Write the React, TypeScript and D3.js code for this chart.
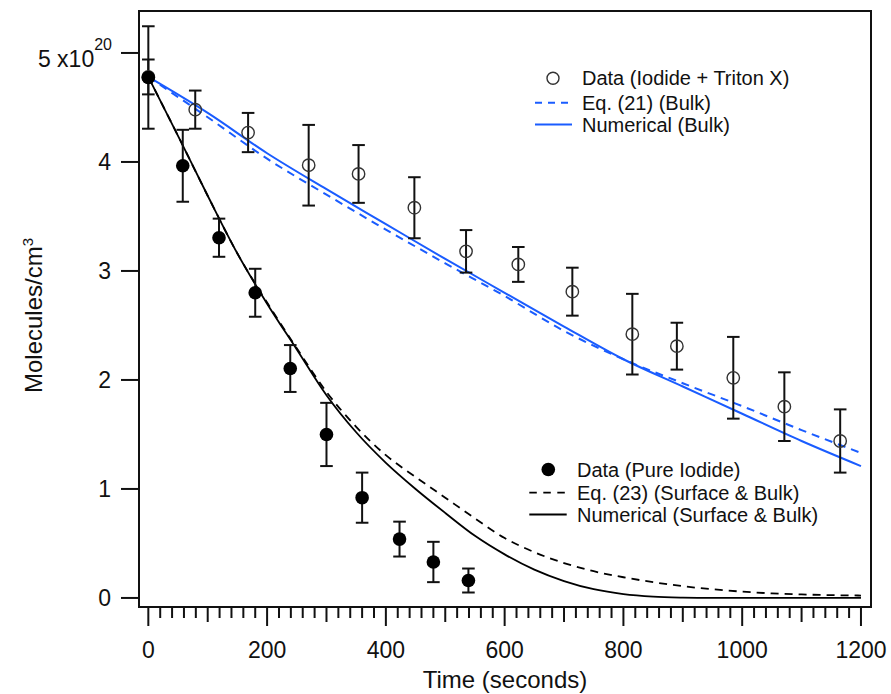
import React from 'react';
import * as d3 from 'd3';

// ---- Data: Iodide + Triton X (open circles) ----
const tritonTime = [0, 79, 168, 270, 354, 448, 535, 623, 714, 815, 890, 985, 1071, 1165];
const tritonValue = [4.78, 4.48, 4.27, 3.97, 3.89, 3.58, 3.18, 3.06, 2.81, 2.42, 2.31, 2.02, 1.755, 1.44];
const tritonErr = [0.16, 0.175, 0.18, 0.37, 0.265, 0.28, 0.195, 0.16, 0.22, 0.37, 0.215, 0.375, 0.315, 0.29];

// ---- Data: Pure Iodide (filled circles) ----
const pureTime = [0, 58, 119, 180, 239, 300, 360, 423, 480, 539];
const pureValue = [4.775, 3.965, 3.305, 2.8, 2.105, 1.5, 0.92, 0.54, 0.33, 0.16];
const pureErr = [0.47, 0.33, 0.175, 0.22, 0.215, 0.29, 0.23, 0.16, 0.185, 0.11];

// ---- Model curves, Bulk (blue) ----
const bulkTime = [0, 100, 200, 300, 400, 500, 600, 700, 800, 900, 1000, 1100, 1200];
const bulkEq21 = [4.78, 4.41, 4.03, 3.7, 3.38, 3.07, 2.77, 2.45, 2.19, 1.97, 1.76, 1.54, 1.33];
const bulkNumerical = [4.78, 4.45, 4.08, 3.75, 3.43, 3.11, 2.8, 2.49, 2.19, 1.94, 1.69, 1.44, 1.21];

// ---- Model curves, Surface & Bulk (black) ----
const sbTime = [0, 50, 100, 150, 200, 250, 300, 350, 400, 450, 500, 550, 600, 650, 700, 750, 800, 850, 900, 950, 1000, 1050, 1100, 1150, 1200];
const sbEq23 = [4.78, 4.24, 3.69, 3.16, 2.71, 2.29, 1.89, 1.57, 1.31, 1.11, 0.92, 0.73, 0.55, 0.42, 0.32, 0.245, 0.19, 0.145, 0.108, 0.08, 0.058, 0.042, 0.032, 0.026, 0.022];
const sbNumerical = [4.78, 4.24, 3.69, 3.16, 2.7, 2.28, 1.86, 1.52, 1.24, 1.0, 0.78, 0.57, 0.4, 0.26, 0.155, 0.08, 0.035, 0.012, 0.003, 0.0, 0.0, 0.0, 0.0, 0.0, 0.0];

// ---- Axis ticks ----
const xTickLabels = [0, 200, 400, 600, 800, 1000, 1200];
const yTickValues = [0, 1, 2, 3, 4, 5];

const FONT = 'Liberation Sans, Arial, Helvetica, sans-serif';
const BLUE = '#1a5cff';
const INK = '#111';

export default function App() {
  const W = 891;
  const H = 694;
  const frame = { left: 139, right: 871, top: 11, bottom: 607 };
  const x = d3.scaleLinear().domain([-15.7, 1216.9]).range([frame.left, frame.right]);
  const y = d3.scaleLinear().domain([-0.083, 5.385]).range([frame.bottom, frame.top]);

  const line = d3
    .line<[number, number]>()
    .x((d) => x(d[0]))
    .y((d) => y(d[1]))
    .curve(d3.curveMonotoneX);

  const zip = (t: number[], v: number[]) => t.map((ti, i) => [ti, v[i]] as [number, number]);

  const minorTicks = d3.range(0, 1201, 20);
  const cap = 6.3;

  const errorBars = (t: number[], v: number[], e: number[], key: string) =>
    t.map((ti, i) => {
      const cx = x(ti);
      const y1 = y(v[i] + e[i]);
      const y2 = y(v[i] - e[i]);
      return (
        <g key={key + i} stroke={INK} strokeWidth={2}>
          <line x1={cx} x2={cx} y1={y1} y2={y2} />
          <line x1={cx - cap} x2={cx + cap} y1={y1} y2={y1} />
          <line x1={cx - cap} x2={cx + cap} y1={y2} y2={y2} />
        </g>
      );
    });

  return (
    <svg
      width={W}
      height={H}
      style={{ position: 'absolute', left: 0, top: 0, background: '#fff' }}
      fontFamily={FONT}
    >
      <rect x={0} y={0} width={W} height={H} fill="#fff" />

      {/* curves */}
      <path d={line(zip(bulkTime, bulkEq21)) || ''} fill="none" stroke={BLUE} strokeWidth={2} strokeDasharray="8,6" />
      <path d={line(zip(bulkTime, bulkNumerical)) || ''} fill="none" stroke={BLUE} strokeWidth={2} />
      <path d={line(zip(sbTime, sbEq23)) || ''} fill="none" stroke="#000" strokeWidth={1.8} strokeDasharray="8,6" />
      <path d={line(zip(sbTime, sbNumerical)) || ''} fill="none" stroke="#000" strokeWidth={1.8} />

      {/* error bars */}
      {errorBars(pureTime, pureValue, pureErr, 'pe')}
      {errorBars(tritonTime, tritonValue, tritonErr, 'te')}

      {/* markers */}
      {tritonTime.map((t, i) => (
        <circle key={'tc' + i} cx={x(t)} cy={y(tritonValue[i])} r={6.2} fill="none" stroke="#333" strokeWidth={1.4} />
      ))}
      {pureTime.map((t, i) => (
        <circle key={'pc' + i} cx={x(t)} cy={y(pureValue[i])} r={6.8} fill="#000" />
      ))}

      {/* frame */}
      <rect
        x={frame.left}
        y={frame.top}
        width={frame.right - frame.left}
        height={frame.bottom - frame.top}
        fill="none"
        stroke="#111"
        strokeWidth={2}
      />

      {/* x ticks */}
      {minorTicks.map((t) => {
        const len = t % 200 === 0 ? 18 : t % 100 === 0 ? 14 : 10;
        return <line key={'xt' + t} x1={x(t)} x2={x(t)} y1={frame.bottom + 1} y2={frame.bottom + 1 + len} stroke={INK} strokeWidth={2} />;
      })}
      {xTickLabels.map((t) => (
        <text key={'xl' + t} x={x(t)} y={658} textAnchor="middle" fontSize={23} fill={INK}>
          {t}
        </text>
      ))}

      {/* y ticks */}
      {yTickValues.map((v) => (
        <line key={'yt' + v} x1={frame.left - 18} x2={frame.left} y1={y(v)} y2={y(v)} stroke={INK} strokeWidth={2} />
      ))}
      {yTickValues.map((v) =>
        v === 5 ? (
          <text key={'yl' + v} x={112} y={y(v) + 14} textAnchor="end" fontSize={23} fill={INK}>
            5 x10
            <tspan fontSize={16} dy={-17}>
              20
            </tspan>
          </text>
        ) : (
          <text key={'yl' + v} x={111} y={y(v) + 8.5} textAnchor="end" fontSize={23} fill={INK}>
            {v}
          </text>
        )
      )}

      {/* axis titles */}
      <text x={(frame.left + frame.right) / 2} y={688} textAnchor="middle" fontSize={24} fill={INK}>
        Time (seconds)
      </text>
      <text transform="translate(42,393) rotate(-90)" textAnchor="start" fontSize={24} fill={INK}>
        Molecules/cm
        <tspan fontSize={15} dy={-9}>
          3
        </tspan>
      </text>

      {/* legend: bulk */}
      <g fontSize={20} fill={INK}>
        <circle cx={553} cy={78.3} r={6} fill="none" stroke="#333" strokeWidth={1.4} />
        <text x={582} y={85.3}>Data (Iodide + Triton X)</text>
        <line x1={535} x2={572} y1={102.7} y2={102.7} stroke={BLUE} strokeWidth={2} strokeDasharray="7,6" />
        <text x={582} y={109.7}>Eq. (21) (Bulk)</text>
        <line x1={535} x2={572} y1={124.5} y2={124.5} stroke={BLUE} strokeWidth={2} />
        <text x={582} y={131.5}>Numerical (Bulk)</text>
      </g>

      {/* legend: surface & bulk */}
      <g fontSize={20} fill={INK}>
        <circle cx={548.3} cy={469.5} r={6.8} fill="#000" />
        <text x={577} y={476.5}>Data (Pure Iodide)</text>
        <line x1={529.3} x2={566.7} y1={492.7} y2={492.7} stroke="#000" strokeWidth={1.8} strokeDasharray="7.5,6.5" />
        <text x={577} y={499.7}>Eq. (23) (Surface &amp; Bulk)</text>
        <line x1={529.3} x2={566.7} y1={514.5} y2={514.5} stroke="#000" strokeWidth={1.8} />
        <text x={577} y={521.5}>Numerical (Surface &amp; Bulk)</text>
      </g>
    </svg>
  );
}
